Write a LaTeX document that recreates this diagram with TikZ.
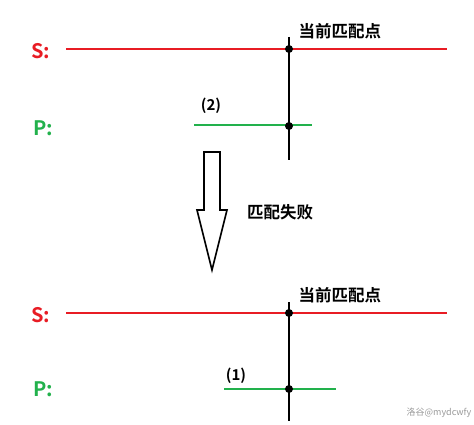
\documentclass[tikz,border=0pt]{standalone}
\usepackage{fontspec}
\setmainfont{Noto Sans CJK SC}[BoldFont={Noto Sans CJK SC Bold}]
\usetikzlibrary{positioning}
\definecolor{sred}{RGB}{232,28,36}
\definecolor{pgreen}{RGB}{34,177,76}
\newlength{\ptsize}
\setlength{\ptsize}{4pt}

\begin{document}
\begin{tikzpicture}[x=1pt,y=-1pt,
    dot/.style={fill=black,circle,inner sep=0pt,minimum size=2*\ptsize},
    slbl/.style={text=sred,font=\fontsize{20}{20}\selectfont\bfseries},
    plbl/.style={text=pgreen,font=\fontsize{20}{20}\selectfont\bfseries},
    tag/.style={font=\fontsize{16.5}{16.5}\selectfont\bfseries},
    idx/.style={font=\fontsize{15}{15}\selectfont\bfseries},
    sline/.style={draw=sred,line width=2.4pt},
    pline/.style={draw=pgreen,line width=2.4pt},
    vline/.style={draw=black,line width=2.8pt}]
  \useasboundingbox (0,0) rectangle (474,425);
  % top: before the mismatch
  \node[slbl] (s1) at (41,51) {S:};
  \node[plbl] (p1) at (43,128) {P:};
  \coordinate (s1a) at (66,49);
  \coordinate (s1b) at (447,49);
  \draw[sline] (s1a)--(s1b);
  \coordinate (p1a) at (194,125);
  \coordinate (p1b) at (312,125);
  \draw[pline] (p1a)--(p1b);
  \coordinate (v1t) at (289,37);
  \coordinate (v1b) at (289,160);
  \draw[vline] (v1t)--(v1b);
  \node[dot] (m1) at (289,49) {};
  \node[dot] (q1) at (289,126) {};
  \node[tag,anchor=west] (cur1) at (295,31) {当前匹配点};
  \node[idx] (k2) at (211,106) {(2)};
  % hollow arrow
  \draw[line width=1.6pt,line join=miter] (204,152)--(220,152)--(220,210)--(227,210)
      --(212,270)--(197,210)--(204,210)--cycle;
  \node[tag] (fail) at (280,212) {匹配失败};
  % bottom: after the shift
  \node[slbl] (s2) at (41,315) {S:};
  \node[plbl] (p2) at (43,389) {P:};
  \coordinate (s2a) at (66,313);
  \coordinate (s2b) at (447,313);
  \draw[sline] (s2a)--(s2b);
  \coordinate (p2a) at (224,389);
  \coordinate (p2b) at (336,389);
  \draw[pline] (p2a)--(p2b);
  \coordinate (v2t) at (289,302);
  \coordinate (v2b) at (289,421);
  \draw[vline] (v2t)--(v2b);
  \node[dot] (m2) at (289,313) {};
  \node[dot] (q2) at (289,389) {};
  \node[tag,anchor=west] (cur2) at (295,295) {当前匹配点};
  \node[idx] (k1) at (236,376) {(1)};
  \node[text=black!40,font=\fontsize{9}{9}\selectfont] (wm) at (439,413) {洛谷@mydcwfy};
\end{tikzpicture}
\end{document}
